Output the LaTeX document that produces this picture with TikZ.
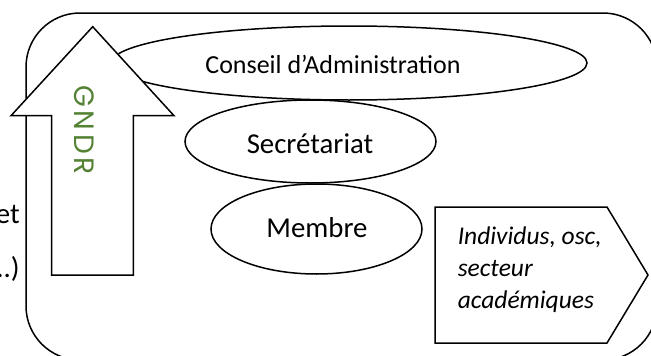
\documentclass[tikz,border=0pt]{standalone}
\usepackage{fontspec}
\setmainfont{Carlito}
\newfontfamily\gndrfont{Poppins}
\usetikzlibrary{shapes.geometric}
\definecolor{gndrgreen}{RGB}{84,130,53}
\begin{document}
\begin{tikzpicture}[x=1pt,y=-1pt,line width=1.5pt,
  bubble/.style={draw,fill=white,ellipse,inner sep=0pt},
  lbl/.style={inner sep=0pt,font=\fontsize{28.8}{34}\selectfont},
  itlbl/.style={inner sep=0pt,anchor=base west,font=\itshape\fontsize{25.5}{32}\selectfont}]
\useasboundingbox (0,0) rectangle (651,356);
\clip (0,0) rectangle (651,356);

% outer frame
\draw[rounded corners=54pt] (26,13) rectangle (657,360);

% text running in from the left margin
\node[lbl,anchor=base east] (et) at (20.5,223) {et};
\node[lbl,anchor=base east] (etc) at (20.5,277) {..)};

% governance bubbles
\node[bubble,minimum width=251pt,minimum height=83pt] (secr) at (310.5,141.5) {};
\node[bubble,minimum width=211pt,minimum height=90pt] (memb) at (316.5,229) {};
\node[bubble,minimum width=476pt,minimum height=74pt] (ca) at (349,63) {};
\node[lbl,anchor=base,font=\fontsize{26}{31}\selectfont] (tca) at (333,73) {Conseil d’Administration};
\node[lbl,anchor=base] (tsecr) at (310,153) {Secrétariat};
\node[lbl,anchor=base] (tmemb) at (317,237) {Membre};

% GNDR up arrow
\draw[fill=white] (92.7,26.7) -- (174,115.7) -- (133.3,115.7) -- (133.3,275)
  -- (51.7,275) -- (51.7,115.7) -- (11,115.7) -- cycle;
\node[inner sep=0pt,rotate=-90,text=gndrgreen,
  font=\gndrfont\fontsize{28}{33}\selectfont\addfontfeature{LetterSpace=12}] (gndr) at (84,130) {GNDR};

% members pentagon
\draw[fill=white] (435,207) -- (607,207) -- (648,275) -- (607,343) -- (435,343) -- cycle;
\node[itlbl] (ind1) at (457,244) {Individus, osc,};
\node[itlbl] (ind2) at (457,276) {secteur};
\node[itlbl] (ind3) at (457,308) {académiques};
\end{tikzpicture}
\end{document}
